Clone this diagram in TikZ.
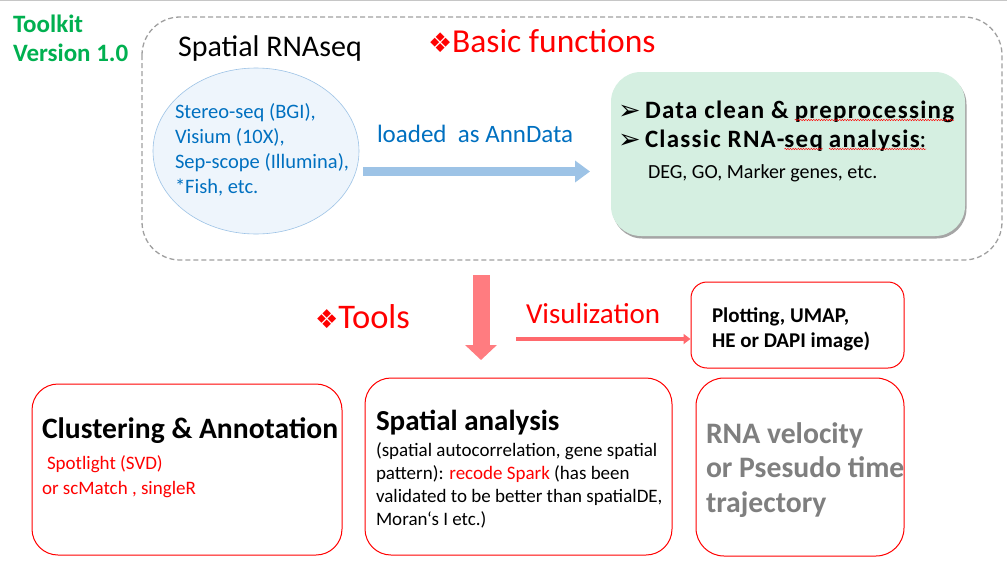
\documentclass[tikz,border=0pt]{standalone}
\usepackage{fontspec}
\setmainfont{Carlito}
\newfontfamily\symfont{DejaVu Sans}
\usetikzlibrary{shapes.geometric,arrows.meta,shadows,decorations.pathmorphing}
\definecolor{kitgreen}{HTML}{00B050}
\definecolor{txtblue}{HTML}{0070C0}
\definecolor{hotred}{HTML}{FF0000}
\definecolor{pinkarrow}{HTML}{FF7C80}
\definecolor{skyarrow}{HTML}{9DC3E6}
\definecolor{ellfill}{HTML}{EEF5FC}
\definecolor{mint}{HTML}{D5EFE1}
\definecolor{dashgray}{HTML}{A0A0A0}
\definecolor{midgray}{HTML}{7F7F7F}
\begin{document}
\begin{tikzpicture}[x=1pt,y=-1pt,
  txt/.style={anchor=base west,inner sep=0pt,outer sep=0pt,align=left},
  toolbox/.style={draw=hotred,line width=1pt,rounded corners=#1},
  toolbox/.default=25pt,
  spaced/.style={font=\bfseries\fontsize{25}{28}\selectfont\addfontfeature{LetterSpace=5}},
  bullet/.style={txt,font=\symfont\fontsize{27}{30}\selectfont},
  squig/.style={draw=hotred,line width=0.45pt,decorate,
    decoration={snake,amplitude=0.7pt,segment length=2.6pt}}]
\useasboundingbox (0,0) rectangle (1007,571);
\fill[white] (0,0) rectangle (1007,571);
% thin frame line along the top edge
\draw[gray!45,line width=1pt] (0,0.5) -- (1007,0.5);

% title
\node[txt,font=\bfseries\fontsize{25}{28}\selectfont,text=kitgreen] (kit) at (13,32) {Toolkit};
\node[txt,font=\bfseries\fontsize{25}{28}\selectfont,text=kitgreen] (ver) at (13,61) {Version 1.0};

% basic functions frame
\draw[dashgray,dash pattern=on 5pt off 3pt,line width=1.3pt,rounded corners=38pt] (142,17) rectangle (1002,260);
\node[txt,font=\fontsize{30}{34}\selectfont] (srna) at (178,56) {Spatial RNAseq};
\node[txt,font=\fontsize{33.5}{36}\selectfont,text=hotred] (basic) at (428,52) {{\symfont\fontsize{27}{30}\selectfont ❖}Basic functions};

% data sources
\node[ellipse,draw=skyarrow,fill=ellfill,line width=0.6pt,minimum width=206pt,minimum height=166pt] (src) at (256,151) {};
\node[txt,font=\fontsize{20.5}{25}\selectfont,text=txtblue] (st) at (175,118) {Stereo-seq (BGI),};
\node[txt,font=\fontsize{20.5}{25}\selectfont,text=txtblue] (vi) at (175,143) {Visium (10X),};
\node[txt,font=\fontsize{20.5}{25}\selectfont,text=txtblue] (se) at (175,168) {Sep-scope (Illumina),};
\node[txt,font=\fontsize{20.5}{25}\selectfont,text=txtblue] (fi) at (175,193) {*Fish, etc.};

\node[txt,font=\fontsize{25}{28}\selectfont,text=txtblue] (load) at (377,142) {loaded\ \ as AnnData};

% preprocessing box
\node[draw=none,fill=mint,rounded corners=30pt,minimum width=354pt,minimum height=164pt,
  drop shadow={shadow xshift=1.5pt,shadow yshift=-2.5pt,opacity=0.5,fill=black!70}] (basicbox) at (788,154) {};
\node[bullet] (b1) at (618,119) {➢};
\node[txt,spaced] (dc1) at (645,118) {Data clean \&};
\node[txt,spaced,xshift=6pt] (dc2) at (dc1.base east) {preprocessing};
\node[bullet] (b2) at (618,148) {➢};
\node[txt,spaced] (cl1) at (645,147) {Classic RNA-};
\node[txt,spaced] (cl2) at (cl1.base east) {seq};
\node[txt,spaced,xshift=6pt] (cl3) at (cl2.base east) {analysis};
\node[txt,font=\fontsize{25}{28}\selectfont] (cl4) at (cl3.base east) {:};
\node[txt,font=\fontsize{20}{24}\selectfont] (deg) at (648,178) {DEG, GO, Marker genes, etc.};
\draw[squig] ([yshift=-2pt]dc2.base west) -- ([yshift=-2pt]dc2.base east);
\draw[squig] ([yshift=-2pt]cl2.base west) -- ([yshift=-2pt]cl2.base east);
\draw[squig] ([yshift=-2pt]cl3.base west) -- ([yshift=-2pt]cl4.base east);

% loading arrow
\coordinate (ldA) at (363,171.5);
\coordinate (ldB) at (590,171.5);
\draw[skyarrow,line width=9pt,-{Triangle[length=15pt,width=21pt]}] (ldA) -- (ldB);

% tools arrow
\coordinate (tdA) at (481,275);
\coordinate (tdB) at (481,360);
\draw[pinkarrow,line width=17pt,-{Triangle[length=15pt,width=31pt]}] (tdA) -- (tdB);
\node[txt,font=\fontsize{34.5}{36}\selectfont,text=hotred] (tools) at (315,328) {{\symfont\fontsize{26}{30}\selectfont ❖}Tools};

% visualization
\node[txt,font=\fontsize{29}{32}\selectfont,text=hotred] (vis) at (526,323) {Visulization};
\node[toolbox=16pt,minimum width=213pt,minimum height=86pt] (plotbox) at (797.5,325) {};
\node[txt,font=\bfseries\fontsize{21}{24}\selectfont] (pl1) at (712,322) {Plotting, UMAP,};
\node[txt,font=\bfseries\fontsize{21}{24}\selectfont] (pl2) at (712,347) {HE or DAPI image)};
\coordinate (vsA) at (516,339);
\draw[pinkarrow!85!red,line width=4.5pt,-{Triangle[length=7pt,width=10pt]}] (vsA) -- (plotbox.west |- vsA);

% tool boxes
\node[toolbox=26pt,minimum width=310pt,minimum height=171pt] (clubox) at (187,469.5) {};
\node[txt,font=\bfseries\fontsize{29.6}{34}\selectfont] (clu) at (42,438) {Clustering \& Annotation};
\node[txt,font=\fontsize{19}{24}\selectfont,text=hotred] (spot) at (47,469) {Spotlight (SVD)};
\node[txt,font=\fontsize{19}{24}\selectfont,text=hotred] (scm) at (42,494) {or scMatch , singleR};

\node[toolbox=26pt,minimum width=307pt,minimum height=177pt] (spabox) at (518.5,466.5) {};
\node[txt,font=\bfseries\fontsize{29}{32}\selectfont] (spa) at (376,430) {Spatial analysis};
\node[txt,font=\fontsize{19}{23}\selectfont] (sp1) at (376,456) {(spatial autocorrelation, gene spatial};
\node[txt,font=\fontsize{19}{23}\selectfont] (sp2) at (376,479) {pattern): \textcolor{hotred}{recode Spark} (has been};
\node[txt,font=\fontsize{19}{23}\selectfont] (sp3) at (376,502) {validated to be better than spatialDE,};
\node[txt,font=\fontsize{19}{23}\selectfont] (sp4) at (376,525) {Moran‘s I etc.)};

\node[toolbox=28pt,minimum width=208pt,minimum height=178pt] (velbox) at (800,467) {};
\node[txt,font=\bfseries\fontsize{29.7}{34}\selectfont,text=midgray] (ve1) at (706,443) {RNA velocity};
\node[txt,font=\bfseries\fontsize{29.7}{34}\selectfont,text=midgray] (ve2) at (706,477) {or Psesudo time};
\node[txt,font=\bfseries\fontsize{29.7}{34}\selectfont,text=midgray] (ve3) at (706,512) {trajectory};
\end{tikzpicture}
\end{document}
